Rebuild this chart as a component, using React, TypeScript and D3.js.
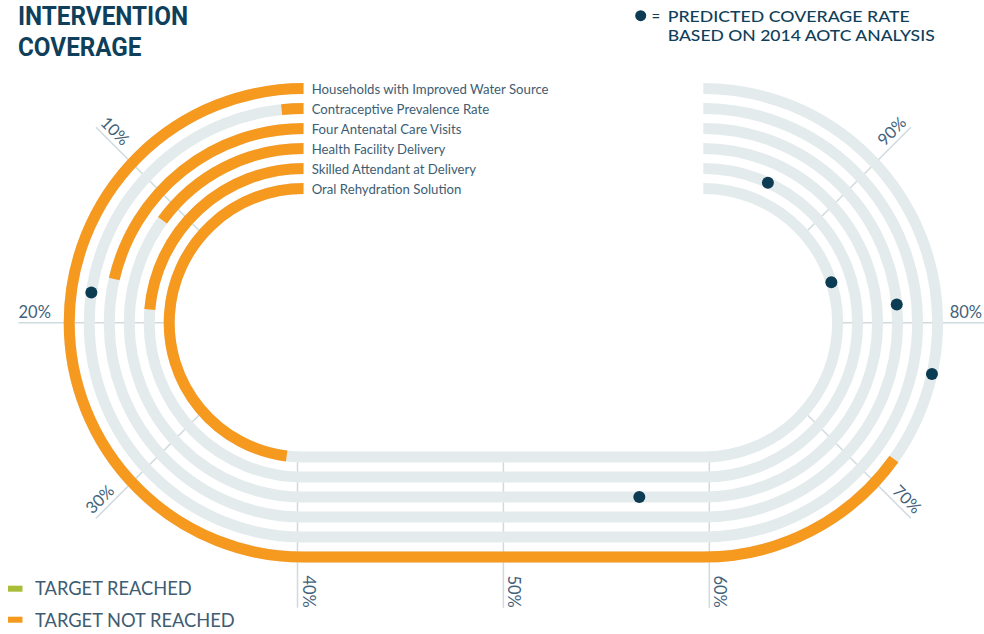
import React from "react";
import * as d3 from "d3";

// ---------- data ----------
const categories = [
  "Households with Improved Water Source",
  "Contraceptive Prevalence Rate",
  "Four Antenatal Care Visits",
  "Health Facility Delivery",
  "Skilled Attendant at Delivery",
  "Oral Rehydration Solution",
];
const coverage = [72.1, 1.3, 17.1, 12.0, 18.9, 38.4];
const predicted = [77.2, 18.2, 81.2, 56.8, 94.5, 83.9];
const targetReached = [false, false, false, false, false, false];
const tickValues = [10, 20, 30, 40, 50, 60, 70, 80, 90];
const tickLabels = ["10%", "20%", "30%", "40%", "50%", "60%", "70%", "80%", "90%"];
const legendLabels = ["TARGET REACHED", "TARGET NOT REACHED"];
const titleLines = ["INTERVENTION", "COVERAGE"];
const predictedLegend = ["PREDICTED COVERAGE RATE", "BASED ON 2014 AOTC ANALYSIS"];

// ---------- layout ----------
const W = 984;
const H = 634;
const cxL = 303.5;
const cxR = 703.3;
const cy = 322.8;
const rOuter = 234.3;
const trackGap = 20;
const trackW = 11;
const tickInner = 134;
const tickOuter = 285;

const ORANGE = "#f6991f";
const GREEN = "#a9bd38";
const TRACK = "#e4ebed";
const GRID = "#cfdadf";
const DOT = "#0c3b54";
const TEXT = "#3e5d72";
const TITLE = "#0f3f5a";
const FONT = "Lato, 'Open Sans', sans-serif";

const n = categories.length;
const radius = d3
  .scaleLinear()
  .domain([0, n - 1])
  .range([rOuter, rOuter - trackGap * (n - 1)]);

const leftAngle = d3.scaleLinear().domain([0, 40]).range([-Math.PI / 2, -1.5 * Math.PI]);
const bottomX = d3.scaleLinear().domain([40, 60]).range([cxL, cxR]);
const rightAngle = d3.scaleLinear().domain([60, 100]).range([Math.PI / 2, -Math.PI / 2]);

function pointAt(p: number, r: number): [number, number] {
  if (p <= 40) {
    const a = leftAngle(p);
    return [cxL + r * Math.cos(a), cy + r * Math.sin(a)];
  }
  if (p <= 60) return [bottomX(p), cy + r];
  const a = rightAngle(p);
  return [cxR + r * Math.cos(a), cy + r * Math.sin(a)];
}

function trackPath(r: number, p0: number, p1: number) {
  const path = d3.path();
  const [x0, y0] = pointAt(p0, r);
  path.moveTo(x0, y0);
  if (p0 < 40) {
    path.arc(cxL, cy, r, leftAngle(p0), leftAngle(Math.min(p1, 40)), true);
  }
  if (p1 > 40 && p0 < 60) {
    const [x, y] = pointAt(Math.min(p1, 60), r);
    path.lineTo(x, y);
  }
  if (p1 > 60) {
    path.arc(cxR, cy, r, rightAngle(Math.max(p0, 60)), rightAngle(p1), true);
  }
  return path.toString();
}

function tickGeom(p: number) {
  let bx: number, a: number, s: number;
  if (p < 50) {
    bx = cxL;
    a = leftAngle(p);
    s = Math.sign(20 - p) * (p === 40 ? 6 : 8.5);
  } else if (p > 50) {
    bx = cxR;
    a = rightAngle(p);
    s = Math.sign(80 - p) * (p === 60 ? 6 : 8.5);
  } else {
    bx = bottomX(p);
    a = Math.PI / 2;
    s = 0;
  }
  const u = [Math.cos(a), Math.sin(a)];
  const t = [Math.sin(a), -Math.cos(a)];
  const at = (r: number): [number, number] => [
    bx + r * u[0] + s * t[0],
    cy + r * u[1] + s * t[1],
  ];
  let rot: number;
  let anchor: string;
  if (p >= 40 && p <= 60) {
    rot = 90;
    anchor = "end";
  } else if (p < 40) {
    rot = (20 - p) * 4.5;
    anchor = "start";
  } else {
    rot = (80 - p) * 4.5;
    anchor = "end";
  }
  const E = at(tickOuter);
  const rr = (rot * Math.PI) / 180;
  const gap = 5;
  const lx = Math.min(E[0] + Math.sin(rr) * gap, W - 2);
  const ly = E[1] - Math.cos(rr) * gap;
  return { p0: at(tickInner), p1: E, lx, ly, rot, anchor };
}

export default function App() {
  return (
    <svg
      width={W}
      height={H}
      style={{ position: "absolute", left: 0, top: 0, background: "#fff" }}
      fontFamily={FONT}
    >
      {/* title */}
      {titleLines.map((t, i) => (
        <text
          key={t}
          x={18}
          y={25 + i * 30.5}
          fontFamily="Roboto, sans-serif"
          fontWeight={700}
          fontSize={25.5}
          fill={TITLE}
          textLength={i === 0 ? 170 : 123.5}
          lengthAdjust="spacingAndGlyphs"
        >
          {t}
        </text>
      ))}

      {/* predicted legend */}
      <circle cx={640.7} cy={15.7} r={5.5} fill={DOT} />
      <text x={651.5} y={21.5} fontSize={15} fill={TITLE}>
        =
      </text>
      {predictedLegend.map((t, i) => (
        <text
          key={t}
          x={667.7}
          y={21.7 + i * 19}
          fontSize={15.5}
          fontWeight={500}
          fill={TITLE}
          textLength={i === 0 ? 242 : 267}
          lengthAdjust="spacingAndGlyphs"
        >
          {t}
        </text>
      ))}

      {/* grid ticks */}
      {tickValues.map((p, i) => {
        const g = tickGeom(p);
        return (
          <g key={p}>
            <line
              x1={g.p0[0]}
              y1={g.p0[1]}
              x2={g.p1[0]}
              y2={g.p1[1]}
              stroke={GRID}
              strokeWidth={1.5}
            />
            <text
              transform={`translate(${g.lx},${g.ly}) rotate(${g.rot})`}
              textAnchor={g.anchor}
              fontSize={16.5}
              fontWeight={400}
              fill="#42627a"
            >
              {tickLabels[i]}
            </text>
          </g>
        );
      })}

      {/* background tracks */}
      {categories.map((c, i) => (
        <path
          key={"bg" + c}
          d={trackPath(radius(i), 0, 100)}
          fill="none"
          stroke={TRACK}
          strokeWidth={trackW}
        />
      ))}

      {/* coverage arcs */}
      {categories.map((c, i) => (
        <path
          key={"cv" + c}
          d={trackPath(radius(i), 0, coverage[i])}
          fill="none"
          stroke={targetReached[i] ? GREEN : ORANGE}
          strokeWidth={trackW}
        />
      ))}

      {/* predicted dots */}
      {categories.map((c, i) => {
        const [x, y] = pointAt(predicted[i], radius(i));
        return <circle key={"dot" + c} cx={x} cy={y} r={6} fill={DOT} />;
      })}

      {/* category labels */}
      {categories.map((c, i) => (
        <text
          key={"lbl" + c}
          x={cxL + 8.2}
          y={cy - radius(i) + 5.8}
          fontSize={13.2}
          fontWeight={400}
          fill={TEXT}
        >
          {c}
        </text>
      ))}

      {/* bottom legend */}
      {legendLabels.map((t, i) => (
        <g key={t}>
          <rect
            x={8}
            y={585.7 + i * 31}
            width={14.5}
            height={6}
            fill={i === 0 ? GREEN : ORANGE}
          />
          <text x={35} y={595 + i * 32.3} fontSize={18.3} fontWeight={400} fill={TEXT}>
            {t}
          </text>
        </g>
      ))}
    </svg>
  );
}
